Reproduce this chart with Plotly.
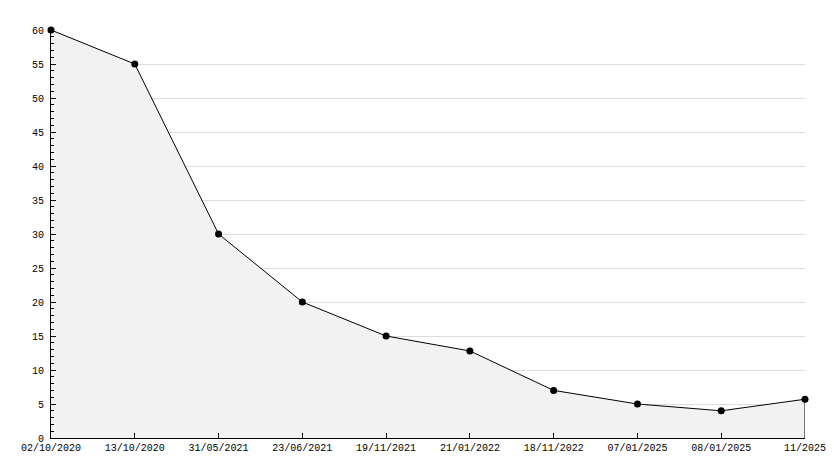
import plotly.graph_objects as go

dates = ["02/10/2020", "13/10/2020", "31/05/2021", "23/06/2021", "19/11/2021",
         "21/01/2022", "18/11/2022", "07/01/2025", "08/01/2025", "11/2025"]
values = [60, 55, 30, 20, 15, 12.8, 7, 5, 4, 5.7]
y_ticks = list(range(0, 61, 5))

font = dict(family="Liberation Mono", size=10, color="#000000")

fig = go.Figure()
fig.add_trace(go.Scatter(
    x=dates, y=values, mode="lines+markers",
    fill="tozeroy", fillcolor="#f2f2f2",
    line=dict(color="#000000", width=1),
    marker=dict(color="#000000", size=7, symbol="circle"),
    hoverinfo="x+y", cliponaxis=False,
))
# closing edge at the last point
fig.add_shape(type="line", xref="x", yref="y",
              x0=dates[-1], x1=dates[-1], y0=0, y1=values[-1],
              line=dict(color="#000000", width=1))

fig.update_layout(
    width=834, height=468,
    margin=dict(l=51, r=29, t=30, b=30, autoexpand=False),
    paper_bgcolor="#ffffff", plot_bgcolor="#ffffff",
    showlegend=False, font=font,
)
fig.update_xaxes(
    type="category", range=[0, len(dates) - 1], automargin=False,
    showgrid=False, showline=True, linecolor="#000000", linewidth=1,
    ticks="inside", ticklen=5, tickcolor="#000000",
    tickfont=font, zeroline=False,
)
fig.update_yaxes(
    range=[0, 60], tickvals=y_ticks, ticktext=[str(v) for v in y_ticks],
    automargin=False,
    showgrid=True, gridcolor="#dddddd", gridwidth=1,
    showline=True, linecolor="#000000", linewidth=1,
    ticks="inside", ticklen=5, tickcolor="#000000",
    minor=dict(dtick=1, ticks="inside", ticklen=3, tickcolor="#000000", showgrid=False),
    tickfont=font, zeroline=False, ticklabelstandoff=4,
)
fig.write_html("out.html", config={"displayModeBar": False},
               post_script="document.body.style.margin='0';document.body.style.overflow='hidden';")
